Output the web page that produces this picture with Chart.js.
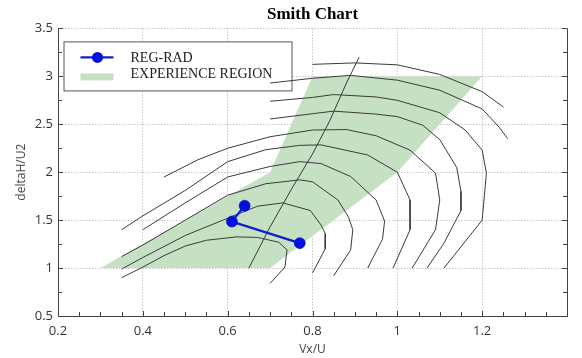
<!DOCTYPE html>
<html>
<head>
<meta charset="utf-8">
<title>Smith Chart</title>
<script src="https://cdn.jsdelivr.net/npm/chart.js@4/dist/chart.umd.min.js"></script>
<style>
  html, body { margin: 0; padding: 0; background: #fff; }
  #smith { display: block; }
</style>
</head>
<body>
<canvas id="smith" width="582" height="358"></canvas>
<script>
// measured operating points (REG-RAD)
const regRadX = [0.64, 0.61, 0.77];
const regRadY = [1.65, 1.485, 1.26];

// experience region outline (closed)
const regionX = [0.30, 0.70, 1.00, 1.20, 0.80, 0.70, 0.30];
const regionY = [1.00, 1.00, 2.00, 3.00, 3.00, 2.00, 1.00];

// efficiency contours, inner to outer, as [x, y]
const contour1 = [[0.35,0.90],[0.40,1.01],[0.45,1.13],[0.50,1.23],[0.55,1.29],[0.62,1.325],[0.67,1.32],[0.72,1.27],[0.74,1.19],[0.735,1.01],[0.70,0.84]];
const contour2 = [[0.35,0.99],[0.40,1.11],[0.50,1.34],[0.60,1.52],[0.67,1.645],[0.73,1.68],[0.795,1.60],[0.82,1.45],[0.83,1.36],[0.83,1.20],[0.80,0.95]];
const contour3 = [[0.35,1.12],[0.40,1.24],[0.50,1.50],[0.60,1.76],[0.69,1.88],[0.77,1.92],[0.80,1.90],[0.86,1.71],[0.885,1.53],[0.895,1.40],[0.89,1.19],[0.85,0.92]];
const contour4 = [[0.40,1.40],[0.50,1.68],[0.60,1.95],[0.70,2.06],[0.77,2.11],[0.82,2.09],[0.89,1.955],[0.95,1.71],[0.97,1.49],[0.965,1.30],[0.93,1.00]];
const contour5 = [[0.35,1.40],[0.40,1.545],[0.50,1.81],[0.60,2.11],[0.69,2.235],[0.77,2.28],[0.82,2.285],[0.93,2.18],[1.00,2.00],[1.03,1.71],[1.03,1.40],[0.99,1.00]];
const contour6 = [[0.45,1.95],[0.53,2.13],[0.60,2.25],[0.70,2.37],[0.80,2.44],[0.88,2.445],[0.95,2.38],[1.03,2.23],[1.09,1.99],[1.10,1.71],[1.09,1.40],[1.035,1.00]];
const contour7 = [[0.70,2.555],[0.80,2.61],[0.85,2.637],[0.95,2.606],[1.00,2.58],[1.06,2.49],[1.10,2.34],[1.14,2.05],[1.15,1.80],[1.15,1.60],[1.11,1.26],[1.07,1.00]];
const contour8 = [[0.70,2.74],[0.80,2.78],[0.85,2.81],[0.95,2.785],[1.00,2.75],[1.10,2.62],[1.16,2.44],[1.20,2.23],[1.21,1.99],[1.20,1.50],[1.11,1.00]];
const contour9 = [[0.70,2.93],[0.80,2.98],[0.89,3.01],[1.00,2.96],[1.10,2.855],[1.20,2.66],[1.24,2.47],[1.26,2.35]];
const contour10 = [[0.80,3.125],[0.90,3.14],[1.00,3.12],[1.10,3.02],[1.20,2.84],[1.25,2.68]];
// steep cross line
const ridgeX = [0.65, 0.70, 0.75, 0.80, 0.84, 0.88, 0.91];
const ridgeY = [1.00, 1.43, 1.82, 2.19, 2.53, 2.93, 3.20];

const contours = [contour1, contour2, contour3, contour4, contour5, contour6, contour7, contour8, contour9, contour10];

const legendLabels = ['REG-RAD', 'EXPERIENCE REGION'];

const BLUE_LINE = '#1020c8';
const BLUE_DOT = '#0010e8';
const GREEN = '#c6e0c4';
const CURVE = '#3a3a3a';

const zip = (xs, ys) => xs.map((x, i) => ({ x: x, y: ys[i] }));
const sans = '"Open Sans", "Noto Sans", sans-serif';
const serif = '"Liberation Serif", "DejaVu Serif", serif';

// order: higher = drawn further underneath
const datasets = [];
datasets.push({
    label: legendLabels[1],
    order: 3,
    data: zip(regionX, regionY),
    showLine: true,
    fill: 'shape',
    backgroundColor: GREEN,
    borderWidth: 0,
    borderColor: 'rgba(0,0,0,0)',
    pointRadius: 0
});
contours.forEach((c, i) => {
    datasets.push({
        label: 'contour ' + (i + 1),
        order: 2,
        data: c.map(p => ({ x: p[0], y: p[1] })),
        showLine: true,
        borderColor: CURVE,
        borderWidth: 1,
        pointRadius: 0
    });
});
datasets.push({
    label: 'ridge',
    order: 2,
    data: zip(ridgeX, ridgeY),
    showLine: true,
    borderColor: CURVE,
    borderWidth: 1,
    pointRadius: 0
});
datasets.push({
    label: legendLabels[0],
    order: 1,
    data: zip(regRadX, regRadY),
    showLine: true,
    borderColor: BLUE_LINE,
    borderWidth: 2.2,
    pointRadius: 5.5,
    pointBackgroundColor: BLUE_DOT,
    pointBorderColor: '#0a1090',
    pointBorderWidth: 0.6
});

// legend box drawn inside the plot, under the curves
const legendBox = {
    id: 'legendBox',
    beforeDatasetsDraw(chart) {
        const { ctx, chartArea } = chart;
        const bx = chartArea.left + 5.5, by = chartArea.top + 13;
        const bw = 228, bh = 49;
        ctx.save();
        ctx.fillStyle = '#fff';
        ctx.fillRect(bx, by, bw, bh);
        ctx.strokeStyle = '#555';
        ctx.lineWidth = 1;
        ctx.strokeRect(bx + 0.5, by + 0.5, bw, bh);

        // REG-RAD sample
        const ly = by + 16;
        ctx.strokeStyle = BLUE_LINE;
        ctx.lineWidth = 2.2;
        ctx.beginPath();
        ctx.moveTo(bx + 17, ly);
        ctx.lineTo(bx + 50, ly);
        ctx.stroke();
        ctx.fillStyle = BLUE_DOT;
        ctx.beginPath();
        ctx.arc(bx + 34, ly, 5.5, 0, Math.PI * 2);
        ctx.fill();

        // region sample
        ctx.fillStyle = GREEN;
        ctx.fillRect(bx + 17, by + 32, 33, 7);

        ctx.fillStyle = '#222';
        ctx.font = '14px ' + serif;
        ctx.textBaseline = 'middle';
        ctx.textAlign = 'left';
        ctx.fillText(legendLabels[0], bx + 67, ly + 0.5);
        ctx.fillText(legendLabels[1], bx + 67, by + 33);
        ctx.restore();
    }
};

// inward ticks (major + minor) and the frame
const frameTicks = {
    id: 'frameTicks',
    afterDatasetsDraw(chart) {
        const { ctx, chartArea: a, scales: { x, y } } = chart;
        ctx.save();
        ctx.strokeStyle = '#444';
        ctx.lineWidth = 1;
        ctx.beginPath();
        for (let i = 0; i <= 24; i++) {
            const v = x.min + i * 0.05;
            const px = Math.round(x.getPixelForValue(v)) + 0.5;
            const len = i % 4 === 0 ? 5 : 4;
            ctx.moveTo(px, a.bottom);
            ctx.lineTo(px, a.bottom - len);
        }
        for (let i = 0; i <= 12; i++) {
            const v = y.min + i * 0.25;
            const py = Math.round(y.getPixelForValue(v)) + 0.5;
            const len = i % 2 === 0 ? 5 : 4;
            ctx.moveTo(a.left, py);
            ctx.lineTo(a.left + len, py);
            ctx.moveTo(a.right, py);
            ctx.lineTo(a.right - len, py);
        }
        ctx.stroke();
        ctx.beginPath();
        ctx.moveTo(Math.round(a.right) + 0.5, a.top);
        ctx.lineTo(Math.round(a.right) + 0.5, a.bottom);
        ctx.stroke();
        ctx.restore();
    }
};

const numLabel = v => String(Math.round(v * 100) / 100);

new Chart(document.getElementById('smith'), {
    type: 'scatter',
    data: { datasets: datasets },
    options: {
        responsive: false,
        animation: false,
        devicePixelRatio: 1,
        layout: { padding: { right: 15 } },
        plugins: {
            legend: { display: false },
            tooltip: { enabled: false },
            title: {
                display: true,
                text: 'Smith Chart',
                fullSize: false,
                color: '#000',
                font: { family: serif, size: 17, weight: 'bold' },
                padding: { top: 4, bottom: 4 }
            }
        },
        scales: {
            x: {
                type: 'linear',
                min: 0.2,
                max: 1.4,
                afterFit(s) { s.height = 42; },
                ticks: {
                    stepSize: 0.2,
                    padding: 7,
                    color: '#333',
                    font: { family: sans, size: 13 },
                    maxRotation: 0,
                    callback: v => (v > 1.35 ? '' : numLabel(v))
                },
                grid: { drawTicks: false, color: 'rgba(0,0,0,0.22)', lineWidth: 1 },
                border: { display: true, color: '#444', width: 1, dash: [1.5, 1.5] },
                title: {
                    display: true,
                    text: 'Vx/U',
                    color: '#444',
                    font: { family: sans, size: 12 },
                    padding: { top: 0, bottom: 1 }
                }
            },
            y: {
                type: 'linear',
                min: 0.5,
                max: 3.5,
                afterFit(s) { s.width = 58; },
                ticks: {
                    stepSize: 0.5,
                    padding: 5,
                    color: '#333',
                    font: { family: sans, size: 13 },
                    callback: v => numLabel(v)
                },
                grid: { drawTicks: false, color: 'rgba(0,0,0,0.22)', lineWidth: 1 },
                border: { display: true, color: '#444', width: 1, dash: [1.5, 1.5] },
                title: {
                    display: true,
                    text: 'deltaH/U2',
                    color: '#444',
                    font: { family: sans, size: 12 },
                    padding: { top: 14, bottom: 0 }
                }
            }
        }
    },
    plugins: [legendBox, frameTicks]
});
</script>
</body>
</html>
